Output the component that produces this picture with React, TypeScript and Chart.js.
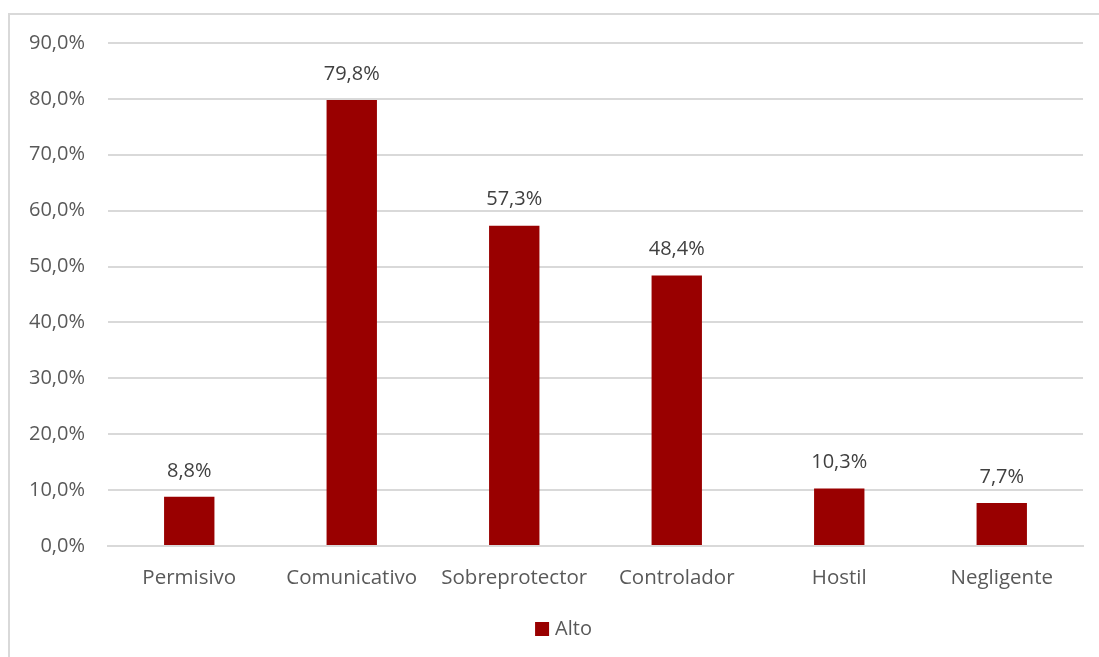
import React, { useEffect, useRef } from "react";
import { Chart, registerables } from "chart.js";

Chart.register(...registerables);

const categories = ["Permisivo", "Comunicativo", "Sobreprotector", "Controlador", "Hostil", "Negligente"];
const altoValues = [8.8, 79.8, 57.3, 48.4, 10.3, 7.7];
const seriesName = "Alto";
const yTicksMax = 90;
const yTickStep = 10;
const barColor = "#990000";

const fmt = (v: number) => v.toFixed(1).replace(".", ",") + "%";

const FONT = "'Open Sans', sans-serif";

const dataLabelPlugin = {
  id: "dataLabels",
  afterDatasetsDraw(chart: any) {
    const ctx = chart.ctx;
    ctx.save();
    ctx.font = `20px ${FONT}`;
    ctx.fillStyle = "#404040";
    ctx.textAlign = "center";
    ctx.textBaseline = "middle";
    chart.data.datasets.forEach((ds: any, i: number) => {
      const meta = chart.getDatasetMeta(i);
      meta.data.forEach((el: any, j: number) => {
        ctx.fillText(fmt(ds.data[j]), el.x, el.y - 26);
      });
    });
    ctx.restore();
  },
};

const legendPlugin = {
  id: "customLegend",
  afterDraw(chart: any) {
    const ctx = chart.ctx;
    ctx.save();
    ctx.font = `20px ${FONT}`;
    const ds = chart.data.datasets[0];
    const tw = ctx.measureText(ds.label).width;
    const total = 14 + 6 + tw;
    const cx = chart.width / 2 + 9;
    const x0 = cx - total / 2;
    const cy = chart.chartArea.bottom + 83;
    ctx.fillStyle = ds.backgroundColor;
    ctx.fillRect(x0, cy - 7, 14, 14);
    ctx.fillStyle = "#595959";
    ctx.textAlign = "left";
    ctx.textBaseline = "middle";
    ctx.fillText(ds.label, x0 + 20, cy);
    ctx.restore();
  },
};

export default function App() {
  const ref = useRef<HTMLCanvasElement>(null);
  useEffect(() => {
    document.documentElement.style.overflow = "hidden";
    document.body.style.overflow = "hidden";
    const chart = new Chart(ref.current!, {
      type: "bar",
      data: {
        labels: categories,
        datasets: [
          {
            label: seriesName,
            data: altoValues,
            backgroundColor: barColor,
            borderWidth: 0,
            barPercentage: 0.62,
            categoryPercentage: 0.5,
          },
        ],
      },
      options: {
        animation: false,
        responsive: false,
        layout: { padding: { left: 0, right: 16, top: 28, bottom: 49 } },
        plugins: {
          legend: { display: false },
          tooltip: { enabled: false },
        },
        scales: {
          x: {
            grid: { display: false, drawTicks: false },
            border: { color: "#d9d9d9", width: 2 },
            ticks: { color: "#595959", font: { family: FONT, size: 20.5 }, padding: 20, maxRotation: 0 },
            afterFit: (s: any) => {
              s.height = 62;
            },
          },
          y: {
            min: 0,
            max: yTicksMax,
            grid: { color: "#d9d9d9", lineWidth: 2, drawTicks: false },
            border: { display: false },
            ticks: {
              stepSize: yTickStep,
              color: "#595959",
              font: { family: FONT, size: 20 },
              padding: 23,
              callback: (v: any) => fmt(Number(v)),
            },
            afterFit: (s: any) => {
              s.width = 98;
              s.paddingTop = 0;
            },
          },
        },
      },
      plugins: [dataLabelPlugin, legendPlugin],
    });
    return () => chart.destroy();
  }, []);
  return (
    <div
      style={{
        position: "absolute",
        left: 8,
        top: 13,
        width: 1100,
        height: 660,
        border: "2px solid #d9d9d9",
        boxSizing: "border-box",
        background: "#fff",
      }}
    >
      <canvas ref={ref} width={1089} height={642} style={{ position: "absolute", left: 0, top: 0, display: "block" }} />
    </div>
  );
}
